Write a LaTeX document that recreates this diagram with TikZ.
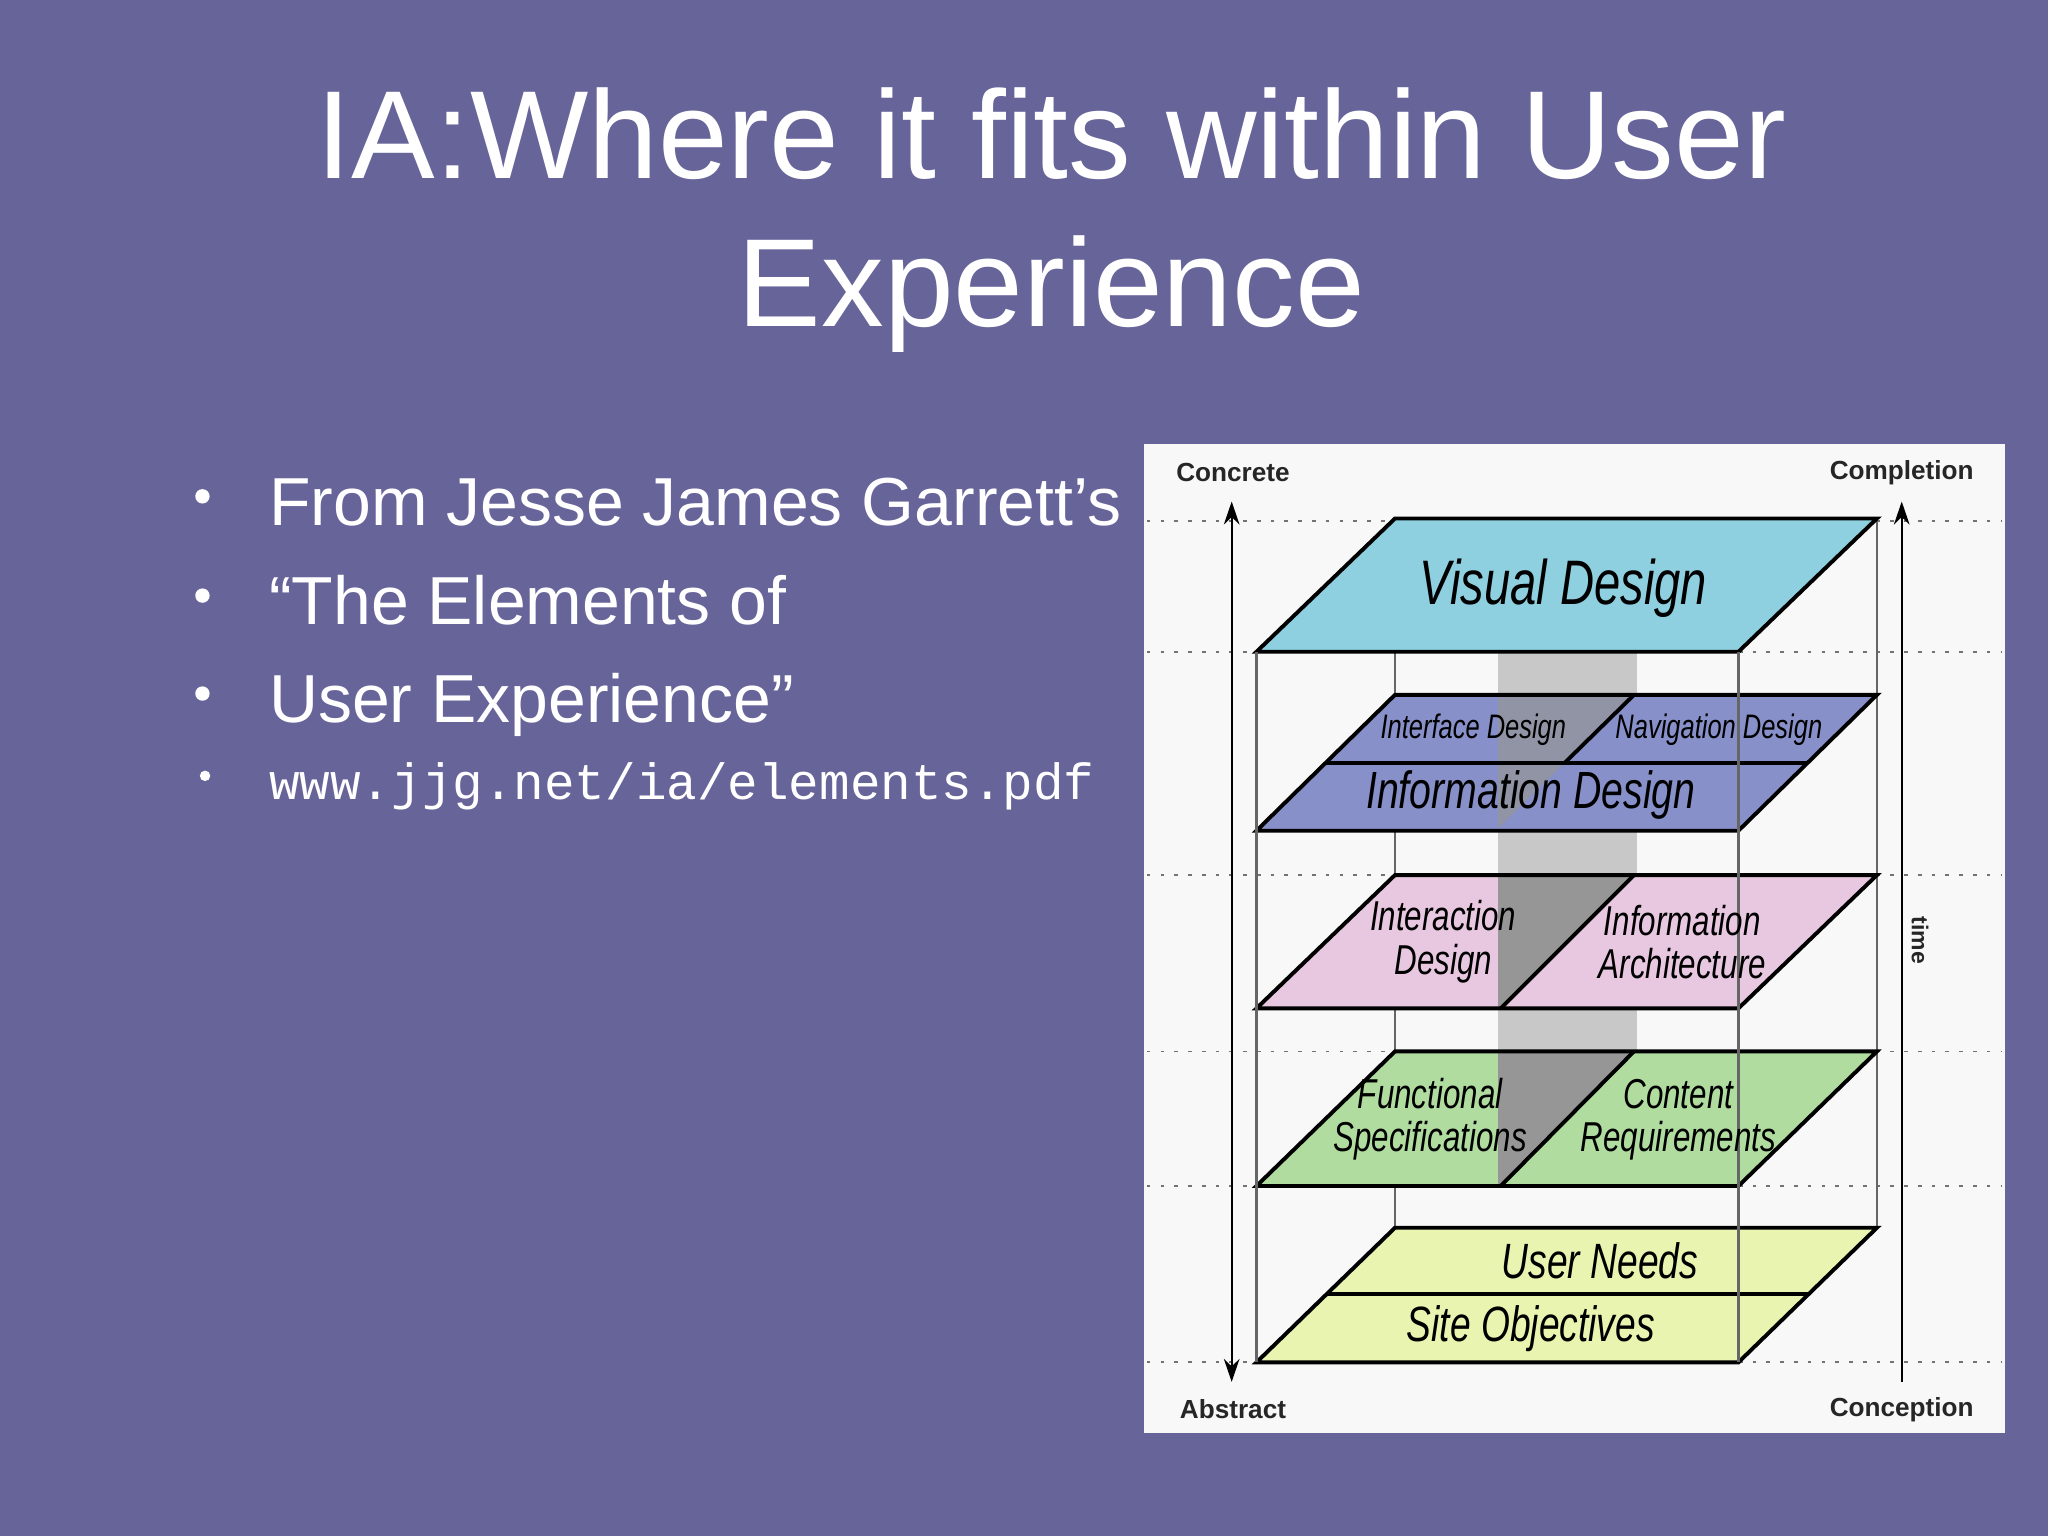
\documentclass[tikz,border=0pt]{standalone}
\usepackage{fontspec}
\setmainfont{Liberation Sans}
\setmonofont{Liberation Mono}
\usetikzlibrary{arrows.meta}
\definecolor{bg}{RGB}{103,100,154}
\definecolor{panel}{RGB}{248,248,248}
\definecolor{vdc}{RGB}{143,208,224}
\definecolor{bluec}{RGB}{135,144,200}
\definecolor{pinkc}{RGB}{232,200,224}
\definecolor{greenc}{RGB}{176,220,160}
\definecolor{yellc}{RGB}{232,244,176}
\definecolor{shaft}{RGB}{200,200,200}
\definecolor{shaftdk}{RGB}{150,150,150}
\tikzset{
  planeedge/.style={draw=black,line width=8.5pt,line join=miter},
  vline/.style={draw=gray!80!black,line width=5.5pt},
  dotline/.style={draw=gray!90!black,line width=4pt,dash pattern=on 8pt off 22pt},
  lab/.style={font=\itshape,xscale=0.75,inner sep=0pt,align=center},
  corner/.style={font=\fontsize{57pt}{60pt}\selectfont\bfseries,text=black!85,inner sep=0pt},
  wt/.style={text=white,inner sep=0pt,anchor=base west},
}
\newcommand\planefill[3]{\fill[#3] (962,#2)--(1068,#1)--(1437,#1)--(1331,#2)--cycle;}
\newcommand\planeline[2]{\draw[planeedge] (962,#2)--(1068,#1)--(1437,#1)--(1331,#2)--cycle;}
\begin{document}
\begin{tikzpicture}[x=0.1cm,y=-0.1cm]
\fill[bg] (0,0) rectangle (1568,1176);
\useasboundingbox (0,0) rectangle (1568,1176);
% title
\node[text=white,anchor=base,inner sep=0pt,font=\fontsize{273pt}{321pt}\selectfont] (t1) at (805,137) {IA:Where it fits within User};
\node[text=white,anchor=base,inner sep=0pt,font=\fontsize{273pt}{321pt}\selectfont] (t2) at (805,250) {Experience};
% bullets
\foreach \yy/\tt [count=\i] in {402/{From Jesse James Garrett’s},478/{“The Elements of},553/{User Experience”}}{
  \fill[white] (155,\yy-22) circle (5.5);
  \node[wt,font=\fontsize{148pt}{160pt}\selectfont] (b\i) at (206,\yy) {\tt};
}
\fill[white] (157,594) circle (4);
\node[wt,font=\fontsize{111pt}{120pt}\ttfamily] (url) at (206,612) {www.jjg.net/ia/elements.pdf};
% panel
\fill[panel] (876,340) rectangle (1535,1097);
\foreach \yy in {399,499,670,805,908,1043}{\draw[dotline] (878,\yy) -- (1532,\yy);}
% shaft and back verticals
\fill[shaft] (1147,499) rectangle (1253,905);
\draw[vline] (1068,499) -- (1068,940);
\draw[vline] (1437,397) -- (1437,940);
% planes fill
\planefill{397}{499}{vdc}
\planefill{532}{636}{bluec}
\planefill{670}{772}{pinkc}
\planefill{805}{908}{greenc}
\planefill{940}{1043}{yellc}
% dark shaft parts on planes
\fill[shaftdk,opacity=0.7] (1147,532)--(1251,532)--(1147,634)--cycle;
\fill[shaftdk] (1147,670)--(1251,670)--(1149,772)--(1147,772)--cycle;
\fill[shaftdk] (1147,805)--(1251,805)--(1149,908)--(1147,908)--cycle;
% plane outlines
\planeline{397}{499}
\planeline{532}{636}
\planeline{670}{772}
\planeline{805}{908}
\planeline{940}{1043}
\draw[planeedge] (1015,584) -- (1384,584);
\draw[planeedge] (1015,991) -- (1384,991);
\draw[planeedge] (1251,532) -- (1198,584);
\draw[planeedge] (1251,670) -- (1149,772);
\draw[planeedge] (1251,805) -- (1149,908);
% front verticals
\draw[vline] (962,499) -- (962,1043);
\draw[vline] (1331,499) -- (1331,1043);
% labels on planes
\node[lab,font=\fontsize{137pt}{140pt}\itshape] (vd) at (1197,450) {Visual Design};
\node[lab,font=\fontsize{74pt}{76pt}\itshape] (ifd) at (1128,559) {Interface Design};
\node[lab,font=\fontsize{74pt}{76pt}\itshape] (nd) at (1316,559) {Navigation Design};
\node[lab,font=\fontsize{114pt}{116pt}\itshape] (infd) at (1172,609) {Information Design};
\node[lab,font=\fontsize{91pt}{94pt}\itshape] (ixd) at (1105,721) {Interaction\\Design};
\node[lab,font=\fontsize{91pt}{94pt}\itshape] (ia) at (1288,721) {Information\\Architecture};
\node[lab,font=\fontsize{91pt}{94pt}\itshape] (fs) at (1095,857) {Functional\\Specifications};
\node[lab,font=\fontsize{91pt}{94pt}\itshape] (cr) at (1285,857) {Content\\Requirements};
\node[lab,font=\fontsize{108pt}{110pt}\itshape] (un) at (1225,965) {User Needs};
\node[lab,font=\fontsize{108pt}{110pt}\itshape] (so) at (1172,1017) {Site Objectives};
% axes
\node[corner] (conc) at (944,362) {Concrete};
\node[corner] (abs) at (944,1079) {Abstract};
\node[corner] (comp) at (1456,362) {Completion};
\node[corner] (conp) at (1456,1079) {Conception};
\node[corner,rotate=-90,font=\fontsize{50pt}{52pt}\selectfont\bfseries] (time) at (1470,720) {time};
\coordinate (la) at (943,384);
\coordinate (lb) at (943,1058);
\coordinate (ra) at (1456,384);
\coordinate (rb) at (1456,1058);
\draw[line width=5pt,{Stealth[length=50pt,width=34pt]}-{Stealth[length=50pt,width=34pt]}] (la) -- (lb);
\draw[line width=5pt,-{Stealth[length=50pt,width=34pt]}] (rb) -- (ra);
\end{tikzpicture}
\end{document}
